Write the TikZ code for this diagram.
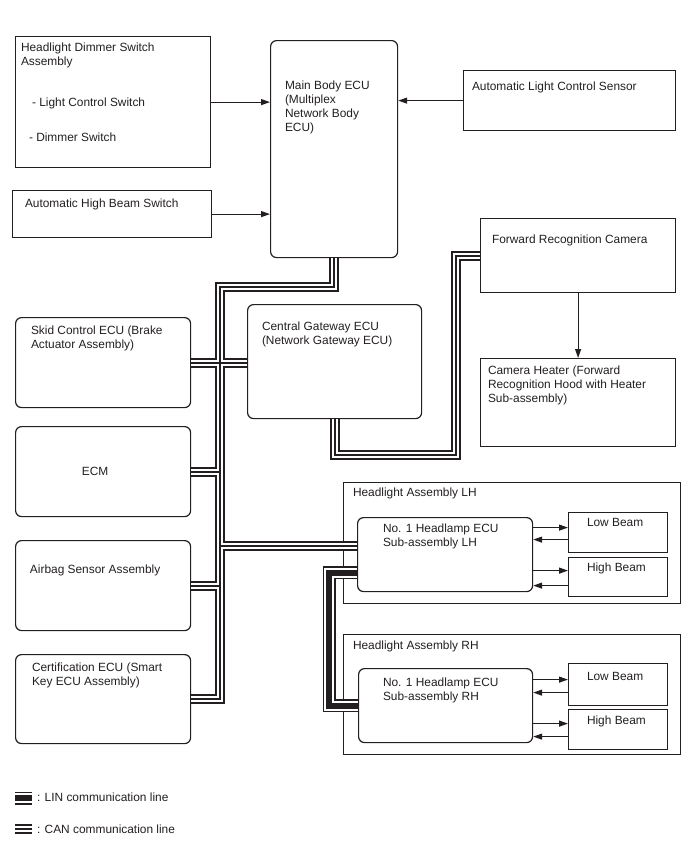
\documentclass[tikz,border=0pt]{standalone}
\usepackage{fontspec}
\setmainfont{Liberation Sans}
\usetikzlibrary{arrows.meta, positioning}
\definecolor{ink}{HTML}{231F20}

\begin{document}
\begin{tikzpicture}[
    x=1pt, y=-1pt,
    font=\fontsize{11.9}{14.2}\selectfont,
    unit/.style={rectangle, draw=ink, line width=1.2pt, anchor=north west, inner sep=0pt},
    ecu/.style={unit, rounded corners=6pt},
    sideecu/.style={ecu, minimum width=175pt, minimum height=90pt},
    beam/.style={unit, minimum width=99pt, minimum height=40pt},
    tag/.style={inner sep=0pt, outer sep=0pt, align=left, text=ink},
    arrow/.style={-{Triangle[length=9pt, width=6pt]}, draw=ink, line width=1.2pt},
    can/.style={draw=ink, line width=10pt, postaction={draw=white, line width=6pt}, postaction={draw=ink, line width=2pt}},
    lin/.style={draw=ink, line width=13pt, postaction={draw=white, line width=10pt}, postaction={draw=ink, line width=6pt}}
]
\useasboundingbox (0,0) rectangle (688,852);

% switches and sensors
\node[unit, minimum width=195pt, minimum height=131pt] (dim) at (15,36) {};
\node[tag, below right=6.4pt and 6pt of dim.north west] (dimtxt) {Headlight Dimmer Switch\\Assembly};
\node[tag, below right=61.7pt and 17pt of dim.north west] (lcstxt) {- Light Control Switch};
\node[tag, below right=96.4pt and 14pt of dim.north west] (dstxt) {- Dimmer Switch};

\node[unit, minimum width=199pt, minimum height=47pt] (ahb) at (12,190) {};
\node[tag, below right=8.7pt and 13pt of ahb.north west] (ahbtxt) {Automatic High Beam Switch};

\node[ecu, minimum width=127pt, minimum height=217pt] (main) at (270,40) {};
\node[tag, below right=40.7pt and 15pt of main.north west] (maintxt) {Main Body ECU\\(Multiplex\\Network Body\\ECU)};

\node[unit, minimum width=212pt, minimum height=60pt] (alcs) at (463,70) {};
\node[tag, below right=11.7pt and 9pt of alcs.north west] (alcstxt) {Automatic Light Control Sensor};

% camera
\node[unit, minimum width=195pt, minimum height=74pt] (cam) at (480,218) {};
\node[tag, below right=16.7pt and 12pt of cam.north west] (camtxt) {Forward Recognition Camera};
\node[unit, minimum width=195pt, minimum height=88pt] (heat) at (480,358) {};
\node[tag, below right=7.7pt and 8pt of heat.north west] (heattxt) {Camera Heater (Forward\\Recognition Hood with Heater\\Sub-assembly)};

% ECUs on the bus
\node[ecu, minimum width=174pt, minimum height=114pt] (gw) at (247,304) {};
\node[tag, below right=17.7pt and 15pt of gw.north west] (gwtxt) {Central Gateway ECU\\(Network Gateway ECU)};

\node[sideecu] (skid) at (15,317) {};
\node[tag, below right=8.7pt and 16pt of skid.north west] (skidtxt) {Skid Control ECU (Brake\\Actuator Assembly)};
\node[sideecu] (ecm) at (15,426) {};
\node[tag] (ecmtxt) at ([xshift=-8pt]ecm.center) {ECM};
\node[sideecu] (air) at (15,540) {};
\node[tag, below right=24.7pt and 15pt of air.north west] (airtxt) {Airbag Sensor Assembly};
\node[sideecu, minimum height=89pt] (cert) at (15,654) {};
\node[tag, below right=8.7pt and 17pt of cert.north west] (certtxt) {Certification ECU (Smart\\Key ECU Assembly)};

% headlights
\node[unit, minimum width=337pt, minimum height=121pt] (asml) at (343,482) {};
\node[tag, below right=5.7pt and 10pt of asml.north west] (asmltxt) {Headlight Assembly LH};
\node[ecu, minimum width=175pt, minimum height=74pt] (hlh) at (357,517) {};
\node[tag, below right=6.7pt and 26pt of hlh.north west] (hlhtxt) {No. 1 Headlamp ECU\\Sub-assembly LH};
\node[beam] (lowl) at (568,512) {};
\node[tag, below right=6.7pt and 19pt of lowl.north west] (lowltxt) {Low Beam};
\node[beam, minimum height=39pt] (highl) at (568,557) {};
\node[tag, below right=5.7pt and 19pt of highl.north west] (highltxt) {High Beam};

\node[unit, minimum width=337pt, minimum height=120pt] (asmr) at (343,634) {};
\node[tag, below right=6.7pt and 10pt of asmr.north west] (asmrtxt) {Headlight Assembly RH};
\node[ecu, minimum width=174pt, minimum height=74pt] (hrh) at (358,668) {};
\node[tag, below right=9.7pt and 25pt of hrh.north west] (hrhtxt) {No. 1 Headlamp ECU\\Sub-assembly RH};
\node[beam, minimum height=42pt] (lowr) at (568,663) {};
\node[tag, below right=9.7pt and 19pt of lowr.north west] (lowrtxt) {Low Beam};
\node[beam] (highr) at (568,709) {};
\node[tag, below right=6.7pt and 19pt of highr.north west] (highrtxt) {High Beam};

% signal arrows
\draw[arrow] (dim.east) -- (dim.east -| main.west);
\draw[arrow] (ahb.east) -- (ahb.east -| main.west);
\draw[arrow] (alcs.west) -- (alcs.west -| main.east);
\draw[arrow] (cam.south) -- (heat.north);

\draw[arrow] ([yshift=5pt]lowl.west -| hlh.east) -- ([yshift=5pt]lowl.west);
\draw[arrow] ([yshift=-7pt]lowl.west) -- ([yshift=-7pt]lowl.west -| hlh.east);
\draw[arrow] ([yshift=6.5pt]highl.west -| hlh.east) -- ([yshift=6.5pt]highl.west);
\draw[arrow] ([yshift=-8.5pt]highl.west) -- ([yshift=-8.5pt]highl.west -| hlh.east);
\draw[arrow] ([yshift=5pt]lowr.west -| hrh.east) -- ([yshift=5pt]lowr.west);
\draw[arrow] ([yshift=-8pt]lowr.west) -- ([yshift=-8pt]lowr.west -| hrh.east);
\draw[arrow] ([yshift=6pt]highr.west -| hrh.east) -- ([yshift=6pt]highr.west);
\draw[arrow] ([yshift=-7pt]highr.west) -- ([yshift=-7pt]highr.west -| hrh.east);

% CAN bus
\coordinate (trunk) at (220,287);
\coordinate (camturn) at (456,455);
\coordinate (hlhcan) at ([yshift=9pt]hlh.west);
\draw[can] (main.south) |- (trunk) |- (cert.east)
    (skid.east) -- (skid.east -| gw.west)
    (ecm.east) -- (ecm.east -| trunk)
    (air.east) -- (air.east -| trunk)
    (trunk |- hlhcan) -- (hlhcan)
    (gw.south) |- (camturn) |- (cam.west);

% LIN bus
\coordinate (linturn) at (329,640);
\coordinate (hlhlin) at ([yshift=-18pt]hlh.west);
\draw[lin] (hlhlin) -| (linturn) |- (hrh.west);

% legend
\coordinate (linkeya) at (15,798);
\coordinate (linkeyb) at (32,798);
\draw[lin] (linkeya) -- (linkeyb);
\node[tag, anchor=west] (linkey) at (37,797) {: LIN communication line};
\coordinate (cankeya) at (15,829);
\coordinate (cankeyb) at (32,829);
\draw[can] (cankeya) -- (cankeyb);
\node[tag, anchor=west] (cankey) at (37,829) {: CAN communication line};
\end{tikzpicture}
\end{document}
